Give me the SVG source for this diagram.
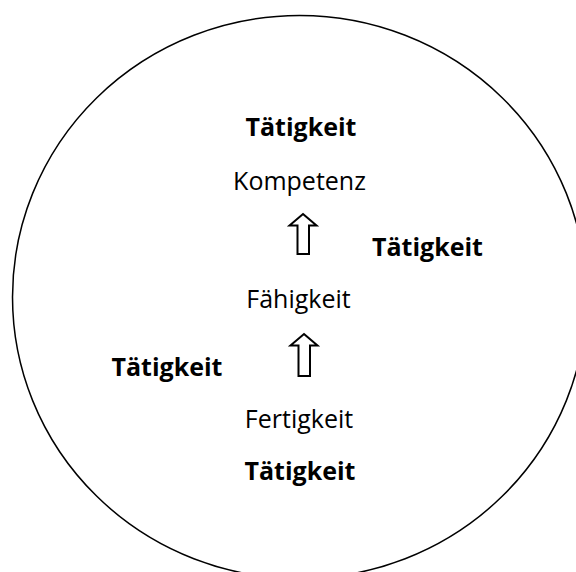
<svg xmlns="http://www.w3.org/2000/svg" width="576" height="572" viewBox="0 0 576 572">
  <style>
    .ring { fill: none; stroke: #000; stroke-width: 1.5; }
    .lbl { font-family: "Open Sans", "Noto Sans", "Liberation Sans", sans-serif; font-size: 25px; fill: #000; text-anchor: middle; }
    .act { font-weight: bold; }
    .up { fill: #fff; stroke: #000; stroke-width: 2; stroke-linejoin: miter; }
  </style>
  <rect width="576" height="572" fill="#fff"/>

  <!-- enclosing circle -->
  <g id="ring">
    <ellipse class="ring" cx="299.5" cy="297" rx="287" ry="281.5"/>
  </g>

  <!-- levels -->
  <g id="kompetenz">
    <text class="lbl" x="299.5" y="190">Kompetenz</text>
  </g>
  <g id="faehigkeit">
    <text class="lbl" x="298.5" y="308">Fähigkeit</text>
  </g>
  <g id="fertigkeit">
    <text class="lbl" x="299" y="428">Fertigkeit</text>
  </g>

  <!-- activity labels -->
  <g id="taetigkeit-top">
    <text class="lbl act" x="301" y="136">Tätigkeit</text>
  </g>
  <g id="taetigkeit-right">
    <text class="lbl act" x="427.5" y="256">Tätigkeit</text>
  </g>
  <g id="taetigkeit-left">
    <text class="lbl act" x="167" y="376">Tätigkeit</text>
  </g>
  <g id="taetigkeit-bottom">
    <text class="lbl act" x="300" y="480">Tätigkeit</text>
  </g>

  <!-- block arrows between levels -->
  <g id="connectors">
    <polygon class="up" points="303,214 316.5,225.5 309,225.5 309,254 297.5,254 297.5,225.5 289.5,225.5"/>
    <polygon class="up" points="304,334 317.5,345.5 310,345.5 310,376 298.5,376 298.5,345.5 290.5,345.5"/>
  </g>
</svg>
